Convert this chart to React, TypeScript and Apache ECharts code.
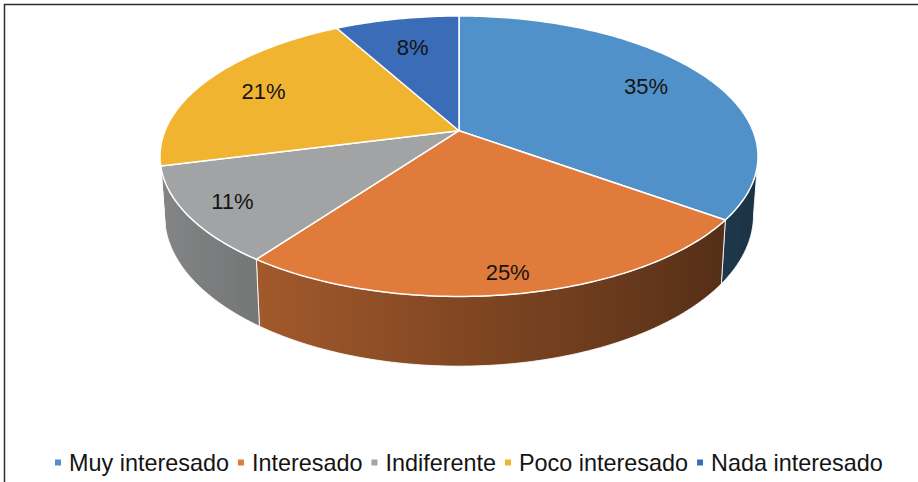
import React, { useEffect, useRef } from "react";
import * as echarts from "echarts";

const categories = ["Muy interesado", "Interesado", "Indiferente", "Poco interesado", "Nada interesado"];
const values = [35, 25, 11, 21, 8];
const palette = ["#5191c9", "#e07b3c", "#a1a3a4", "#f0b431", "#3a6cb7"];

const TOTAL = values.reduce((a, b) => a + b, 0);
const starts = values.map((_, i) => values.slice(0, i).reduce((a, b) => a + b, 0));

// projection of the tilted disc
const CX = 459;
const CY = 130.7;
const A = 294;
const B = 135.6;
const K = 0.182;
const T = 57;
const BS = 0.985;
const FONT = "'Liberation Sans', Arial, Helvetica, sans-serif";

function proj(theta: number, r: number) {
  const s = Math.sin(theta);
  const c = Math.cos(theta);
  const d = 1 + K * r * c;
  return [CX + (A * r * s) / d, CY - (B * r * c) / d];
}
function projBottom(theta: number) {
  const p = proj(theta, 1);
  const d = 1 + K * Math.cos(theta);
  return [CX + (p[0] - CX) * BS, p[1] + T / d];
}
function hexToRgb(h: string) {
  const n = parseInt(h.slice(1), 16);
  return [(n >> 16) & 255, (n >> 8) & 255, n & 255];
}
function shade(hex: string, theta: number) {
  const f = 0.58 - 0.25 * Math.sin(theta);
  const [r, g, b] = hexToRgb(hex);
  return `rgb(${Math.round(r * f)},${Math.round(g * f)},${Math.round(b * f)})`;
}

const TH_R = Math.acos(-K);
const TH_L = 2 * Math.PI - Math.acos(-K);

function renderItem(params: any, api: any) {
  const v = api.value(0);
  const st = api.value(1);
  const color = palette[params.seriesIndex];
  const t0 = (st / TOTAL) * Math.PI * 2;
  const t1 = ((st + v) / TOTAL) * Math.PI * 2;
  const children: any[] = [];

  // top face
  const n = Math.max(4, Math.ceil(((t1 - t0) * 180) / Math.PI));
  const top: number[][] = [[CX, CY]];
  for (let i = 0; i <= n; i++) top.push(proj(t0 + ((t1 - t0) * i) / n, 1));
  children.push({
    type: "polygon",
    shape: { points: top },
    style: { fill: color, stroke: "#ffffff", lineWidth: 1.5, lineJoin: "round" },
    z2: 10,
  });

  // side wall
  const a = Math.max(t0, TH_R);
  const b = Math.min(t1, TH_L);
  if (b > a) {
    const m = Math.max(4, Math.ceil(((b - a) * 180) / Math.PI));
    const upper: number[][] = [];
    const lower: number[][] = [];
    for (let i = 0; i <= m; i++) {
      const th = a + ((b - a) * i) / m;
      upper.push(proj(th, 1));
      lower.push(projBottom(th));
    }
    const xs = upper.map((p) => p[0]).concat(lower.map((p) => p[0]));
    const xmin = Math.min(...xs);
    const xmax = Math.max(...xs);
    const span = Math.max(1, xmax - xmin);
    const stops: any[] = [];
    for (let i = m; i >= 0; i--) {
      const th = a + ((b - a) * i) / m;
      const off = Math.min(1, Math.max(0, (upper[i][0] - xmin) / span));
      stops.push({ offset: off, color: shade(color, th) });
    }
    stops.sort((p, q) => p.offset - q.offset);
    const grad = new echarts.graphic.LinearGradient(xmin, 0, xmax, 0, stops, true);
    children.push({
      type: "polygon",
      shape: { points: upper.concat(lower.reverse()) },
      style: { fill: grad, stroke: "rgba(255,255,255,0.85)", lineWidth: 1, lineJoin: "round" },
      z2: 2,
    });
  }

  // label
  const mid = (t0 + t1) / 2;
  const r = 0.8 - 0.09 * Math.cos(mid);
  const lp = proj(mid, r);
  children.push({
    type: "text",
    x: lp[0],
    y: lp[1],
    style: {
      text: Math.round((v / TOTAL) * 100) + "%",
      fill: "#141414",
      fontSize: 22,
      fontFamily: FONT,
      align: "center",
      verticalAlign: "middle",
    },
    z2: 30,
  });

  return { type: "group", children };
}

export default function App() {
  const ref = useRef<HTMLDivElement>(null);
  useEffect(() => {
    if (!ref.current) return;
    const chart = echarts.init(ref.current, undefined, { renderer: "svg" });
    chart.setOption({
      animation: false,
      backgroundColor: "#ffffff",
      legend: {
        data: categories,
        left: 50,
        top: 446,
        itemWidth: 6,
        itemHeight: 6,
        itemGap: 9,
        icon: "rect",
        selectedMode: false,
        textStyle: { fontSize: 23.4, color: "#141414", fontFamily: FONT, padding: [0, 0, 0, 3] },
      },
      graphic: [
        {
          type: "rect",
          silent: true,
          shape: { x: 4.5, y: 4.5, width: 1000, height: 1000 },
          style: { fill: "none", stroke: "#2e2e2e", lineWidth: 1.5 },
        },
      ],
      series: categories.map((name, i) => ({
        type: "custom",
        name,
        coordinateSystem: "none",
        silent: true,
        itemStyle: { color: palette[i] },
        data: [[values[i], starts[i]]],
        renderItem,
      })),
    });
    return () => chart.dispose();
  }, []);
  return (
    <div
      ref={ref}
      style={{ position: "fixed", left: 0, top: 0, width: 918, height: 482 }}
    />
  );
}
